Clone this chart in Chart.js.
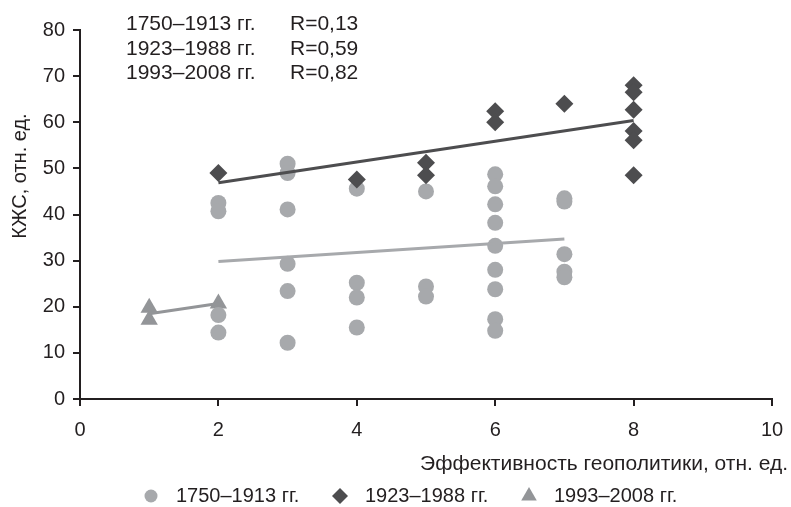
<!DOCTYPE html>
<html lang="ru">
<head>
<meta charset="UTF-8">
<title>КЖС</title>
<script src="https://cdn.jsdelivr.net/npm/chart.js"></script>
<style>
  html, body { margin: 0; padding: 0; background: #fff; }
  #wrap { width: 791px; height: 507px; position: relative; }
</style>
</head>
<body>
<div id="wrap"><canvas id="chart"></canvas></div>
<script>
// series names
const seriesNames = ['1750–1913 гг.', '1923–1988 гг.', '1993–2008 гг.'];
const rValues = ['R=0,13', 'R=0,59', 'R=0,82'];

// 1750–1913 (circles)
const x1 = [2, 2, 2, 2,
            3, 3, 3, 3, 3, 3,
            4, 4, 4, 4,
            5, 5, 5,
            6, 6, 6, 6, 6, 6, 6, 6, 6,
            7, 7, 7, 7, 7];
const y1 = [42.5, 40.7, 18.2, 14.4,
            51.0, 49.0, 41.1, 29.3, 23.4, 12.2,
            45.6, 25.2, 22.0, 15.5,
            45.0, 24.4, 22.2,
            48.7, 46.1, 42.2, 38.2, 33.2, 28.0, 23.8, 17.3, 14.8,
            43.5, 42.8, 31.4, 27.6, 26.4];

// 1923–1988 (diamonds)
const x2 = [2, 4, 5, 5, 6, 6, 7, 8, 8, 8, 8, 8, 8];
const y2 = [49.0, 47.6, 51.2, 48.5, 62.4, 60.0, 64.0, 68.0, 66.5, 62.7, 58.1, 56.1, 48.5];

// 1993–2008 (triangles)
const x3 = [1, 1, 2];
const y3 = [19.8, 17.2, 20.7];

// trend lines (end points)
const trendX1 = [2, 7], trendY1 = [29.8, 34.7];
const trendX2 = [2, 8], trendY2 = [46.9, 60.4];
const trendX3 = [1, 2], trendY3 = [18.5, 20.7];

const xTicks = [0, 2, 4, 6, 8, 10];
const yTicks = [0, 10, 20, 30, 40, 50, 60, 70, 80];

const colCircle = '#a7a9ac';
const colDiamond = '#4d4d4f';
const colTriangle = '#939598';
const textCol = '#231f20';
const FONT = '"Liberation Sans", Arial, sans-serif';

function pts(xs, ys) {
  return xs.map((x, i) => ({x: x, y: ys[i]}));
}

// text, titles and legend
const extras = {
  id: 'extras',
  afterDraw(chart) {
    const ctx = chart.ctx;
    ctx.save();
    ctx.fillStyle = textCol;
    ctx.textBaseline = 'alphabetic';

    ctx.font = '21px ' + FONT;
    ctx.textAlign = 'left';
    const base = [30, 54.5, 78.5];
    seriesNames.forEach((n, i) => {
      ctx.fillText(n, 126, base[i]);
      ctx.fillText(rValues[i], 290, base[i]);
    });

    ctx.font = '21px ' + FONT;
    ctx.textAlign = 'right';
    ctx.fillText('Эффективность геополитики, отн. ед.', 788, 470);

    ctx.save();
    ctx.translate(26, 176);
    ctx.rotate(-Math.PI / 2);
    ctx.textAlign = 'center';
    ctx.font = '20px ' + FONT;
    ctx.fillText('КЖС, отн. ед.', 0, 0);
    ctx.restore();

    // legend
    const marks = [
      {style: 'circle', r: 6.5, col: colCircle, x: 151},
      {style: 'rectRot', r: 8, col: colDiamond, x: 340},
      {style: 'triangle', r: 9, col: colTriangle, x: 529}
    ];
    ctx.font = '20px ' + FONT;
    ctx.textAlign = 'left';
    marks.forEach((m, i) => {
      ctx.fillStyle = m.col;
      Chart.helpers.drawPoint(ctx, {pointStyle: m.style, radius: m.r, rotation: 0, borderWidth: 0}, m.x, 496);
      ctx.fillStyle = textCol;
      ctx.fillText(seriesNames[i], m.x + 25, 502);
    });
    ctx.restore();
  }
};

new Chart(document.getElementById('chart'), {
  type: 'scatter',
  data: {
    datasets: [
      {label: seriesNames[0], data: pts(x1, y1), pointStyle: 'circle', pointRadius: 8,
       backgroundColor: colCircle, borderWidth: 0, order: 3},
      {label: seriesNames[1], data: pts(x2, y2), pointStyle: 'rectRot', pointRadius: 9,
       backgroundColor: colDiamond, borderWidth: 0, order: 2},
      {label: seriesNames[2], data: pts(x3, y3), pointStyle: 'triangle', pointRadius: 10,
       backgroundColor: colTriangle, borderWidth: 0, order: 4},
      {type: 'line', data: pts(trendX1, trendY1), borderColor: colCircle, borderWidth: 3,
       pointRadius: 0, fill: false, order: 1},
      {type: 'line', data: pts(trendX2, trendY2), borderColor: colDiamond, borderWidth: 3,
       pointRadius: 0, fill: false, order: 0},
      {type: 'line', data: pts(trendX3, trendY3), borderColor: colTriangle, borderWidth: 3,
       pointRadius: 0, fill: false, order: 1}
    ]
  },
  options: {
    responsive: true,
    maintainAspectRatio: false,
    animation: false,
    events: [],
    layout: {padding: {top: 30, right: 19, left: 0, bottom: 0}},
    plugins: {legend: {display: false}, tooltip: {enabled: false}, title: {display: false}},
    scales: {
      x: {
        type: 'linear', min: 0, max: 10,
        afterBuildTicks: s => { s.ticks = xTicks.map(v => ({value: v})); },
        afterFit: s => { s.height = 108; s.paddingRight = 0; s.paddingLeft = 0; },
        border: {display: true, color: textCol, width: 2},
        grid: {display: true, drawOnChartArea: false, drawTicks: true, tickLength: 7,
               color: textCol, lineWidth: 2},
        ticks: {color: textCol, font: {family: FONT, size: 20}, padding: 12, maxRotation: 0}
      },
      y: {
        type: 'linear', min: 0, max: 80,
        afterBuildTicks: s => { s.ticks = yTicks.map(v => ({value: v})); },
        afterFit: s => { s.width = 80; },
        border: {display: true, color: textCol, width: 2},
        grid: {display: true, drawOnChartArea: false, drawTicks: true, tickLength: 7,
               color: textCol, lineWidth: 2},
        ticks: {color: textCol, font: {family: FONT, size: 20}, padding: 8}
      }
    }
  },
  plugins: [extras]
});
</script>
</body>
</html>
